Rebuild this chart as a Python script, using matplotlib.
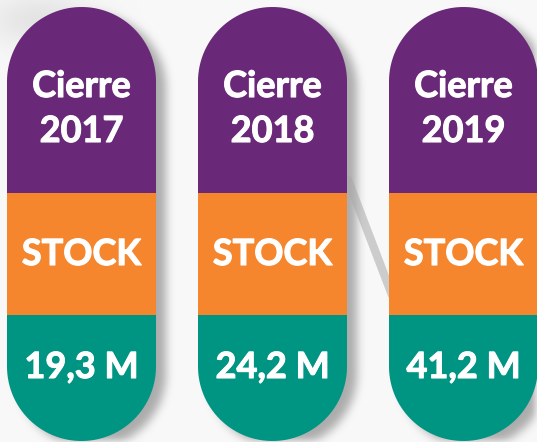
import matplotlib
matplotlib.use("Agg")
import matplotlib.pyplot as plt
import matplotlib.patheffects as pe
import numpy as np
from matplotlib.patches import Polygon

years = ["2017", "2018", "2019"]
stock = ["19,3 M", "24,2 M", "41,2 M"]
label = "STOCK"

W, H = 537, 442
purple = "#692878"
orange = "#f5862d"
teal = "#009482"

# pill layout (pixels, y down)
x0 = [7, 198, 389]
pw = 149
top, bot = 7, 441
cut1, cut2 = 193, 315
r = pw / 2


def capsule(cx, t, b):
    a1 = np.linspace(np.pi, 2 * np.pi, 60)
    a2 = np.linspace(0, np.pi, 60)
    upper = np.c_[cx + r * np.cos(a1), t + r + r * np.sin(a1)]
    lower = np.c_[cx + r * np.cos(a2), b - r + r * np.sin(a2)]
    return np.vstack([upper, lower])


def shadow_bg():
    yy, xx = np.mgrid[0:H, 0:W] + 0.5
    m = np.zeros((H, W))
    dx, dy = 10, 7
    for x in x0:
        cx = x + r + dx
        ax_ = np.abs(xx - cx) <= r
        mid = (yy >= top + r + dy) & (yy <= bot - r + dy) & ax_
        c1 = (xx - cx) ** 2 + (yy - (top + r + dy)) ** 2 <= r * r
        c2 = (xx - cx) ** 2 + (yy - (bot - r + dy)) ** 2 <= r * r
        m[mid | c1 | c2] = 1
    k = np.ones(9) / 9
    for _ in range(3):
        m = np.apply_along_axis(lambda v: np.convolve(v, k, mode="same"), 1, m)
        m = np.apply_along_axis(lambda v: np.convolve(v, k, mode="same"), 0, m)
    g = 0.975 - 0.30 * m
    # faint grey smudge top-left of the backdrop
    g -= 0.08 * np.exp(-((xx - 40) ** 2 / 3000 + (yy - 20) ** 2 / 800))
    return np.dstack([g, g, g])


fig = plt.figure(figsize=(W / 100, H / 100), dpi=100)
ax = fig.add_axes([0, 0, 1, 1])
ax.set_xlim(0, W)
ax.set_ylim(H, 0)
ax.axis("off")

ax.imshow(shadow_bg(), extent=(0, W, H, 0), zorder=0, interpolation="bilinear")
ax.plot([348, 392], [180, 295], color="#a8a8a8", lw=6, alpha=0.55, zorder=1,
        solid_capstyle="round")

for i, x in enumerate(x0):
    cx = x + r
    pill = Polygon(capsule(cx, top, bot), closed=True, fc="none", ec="none")
    ax.add_patch(pill)
    bars = ax.bar([cx] * 3, [cut1 - top, cut2 - cut1, bot - cut2],
                  bottom=[top, cut1, cut2], width=pw,
                  color=[purple, orange, teal], zorder=2)
    for b in bars:
        b.set_clip_path(pill)
    kw = dict(ha="center", va="baseline", color="white", fontsize=26,
              fontweight="bold", family=["Lato", "DejaVu Sans"], zorder=3,
              path_effects=[pe.withStroke(linewidth=0.8, foreground="white")])
    ax.text(cx, 97, "Cierre", **kw)
    ax.text(cx, 142, years[i], **kw)
    ax.text(cx, 265, label, **kw)
    ax.text(cx, 378, stock[i], **kw)

fig.savefig("out.png", dpi=100)
